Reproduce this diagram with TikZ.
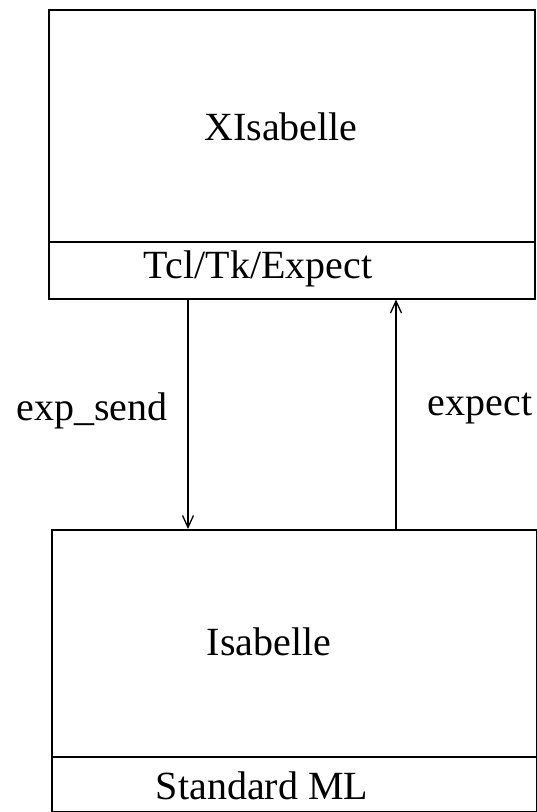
\documentclass[tikz,border=0pt]{standalone}
\usepackage{fontspec}
\setmainfont{Liberation Serif}
\usetikzlibrary{arrows.meta}
\begin{document}
\begin{tikzpicture}[x=1pt,y=-1pt,
  box/.style={draw, rectangle, line width=1.5pt, inner sep=0pt, anchor=north west},
  lbl/.style={font=\fontsize{40}{48}\selectfont, inner sep=0pt, anchor=base},
  conn/.style={line width=1.3pt, -{Straight Barb[length=12pt,width=11pt,line width=1.3pt]}}]
\useasboundingbox (0,0) rectangle (537,812);
% top box
\node[box, minimum width=486pt, minimum height=232pt] (xis) at (48,9) {};
\node[box, minimum width=486pt, minimum height=57pt] (tcl) at (48,241) {};
% bottom box
\node[box, minimum width=485pt, minimum height=227pt] (isa) at (51,529) {};
\node[box, minimum width=485pt, minimum height=55pt] (sml) at (51,756) {};
% labels
\node[lbl] (t1) at (281,140) {XIsabelle};
\node[lbl] (t2) at (258,278) {Tcl/Tk/Expect};
\node[lbl] (t3) at (269,655) {Isabelle};
\node[lbl] (t4) at (262,799) {Standard ML};
\node[lbl] (l1) at (92,420) {exp\_send};
\node[lbl] (l2) at (480,415) {expect};
% connectors
\coordinate (d) at (188,0);
\coordinate (u) at (396,0);
\draw[conn] (tcl.south -| d) -- (isa.north -| d);
\draw[conn] (isa.north -| u) -- (tcl.south -| u);
\end{tikzpicture}
\end{document}
